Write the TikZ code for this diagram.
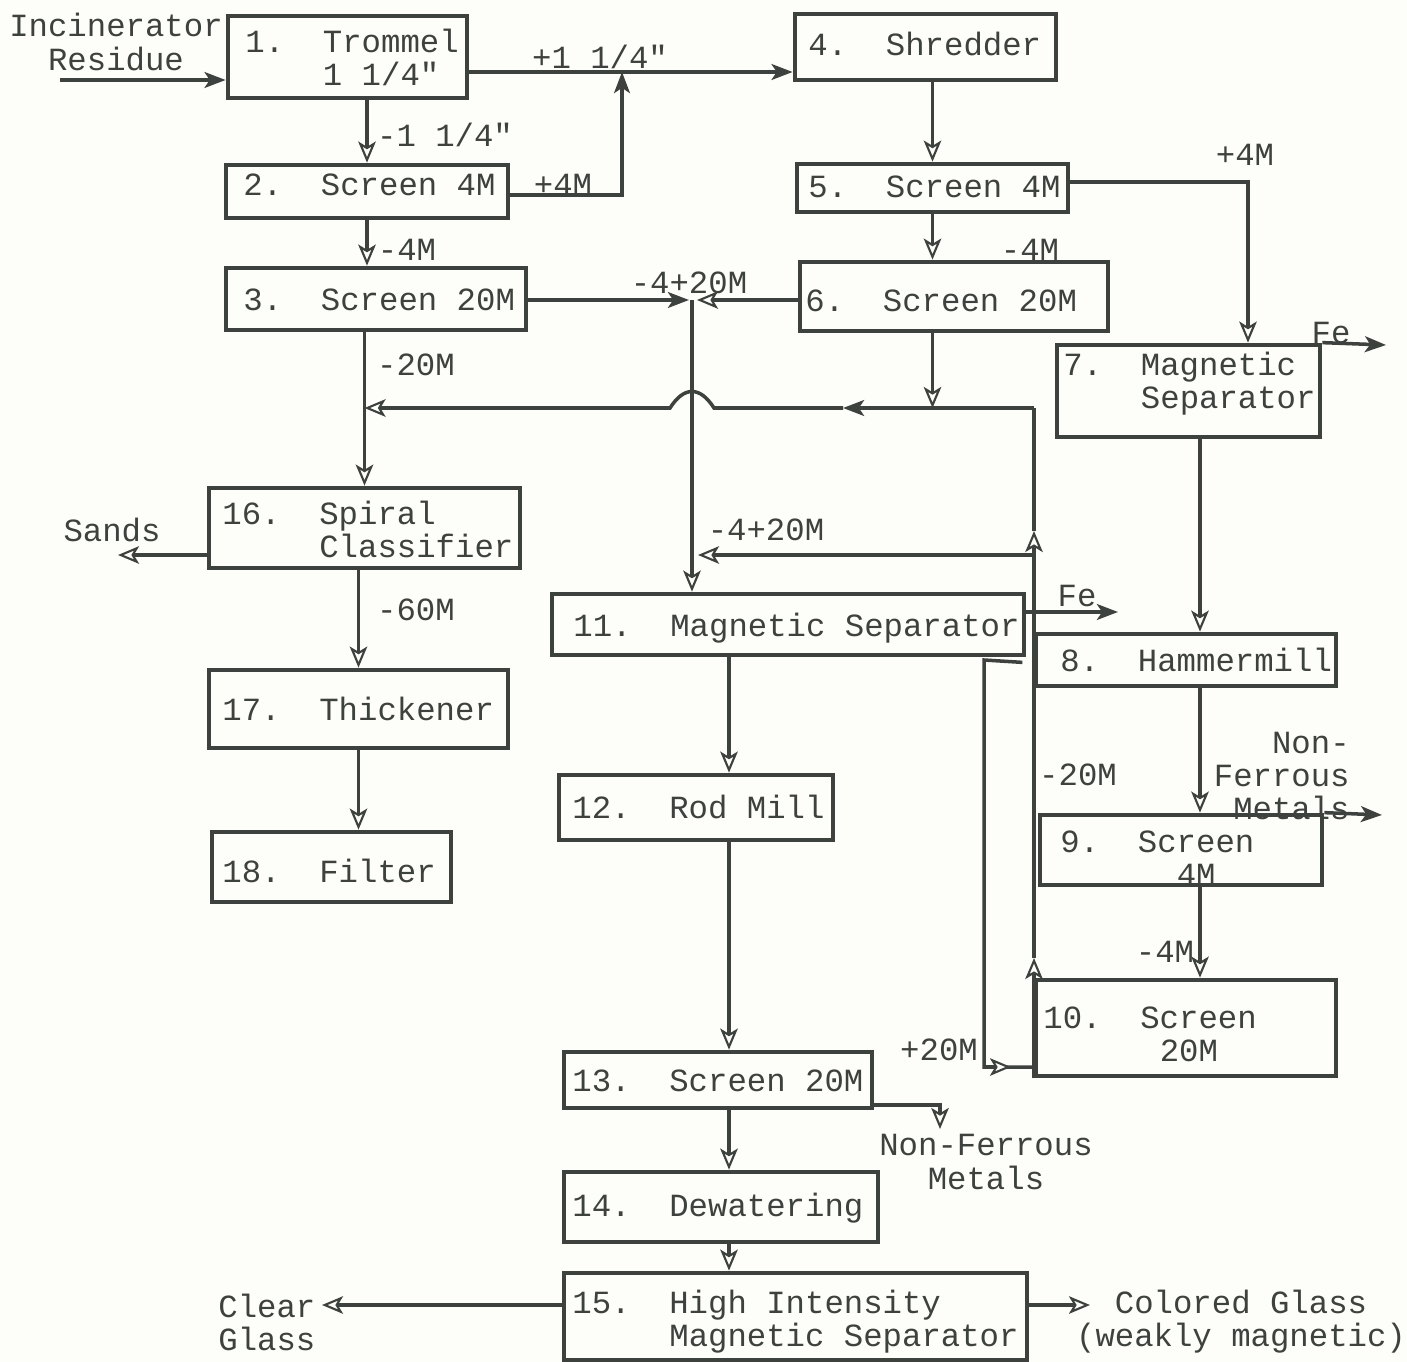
\documentclass[tikz,border=0pt]{standalone}
\usepackage{fontspec}
\setmainfont{Liberation Mono}[Ligatures=TeXOff]
\usetikzlibrary{arrows.meta,calc,fit}
\definecolor{ink}{HTML}{3E423E}
\definecolor{paper}{HTML}{FDFDF9}
\begin{document}
\begin{tikzpicture}[x=0.02cm,y=-0.02cm,
  box/.style={draw=ink, line width=2.7pt, inner sep=0pt},
  txt/.style={text=ink, inner sep=0pt, font=\fontsize{18.4pt}{18.8pt}\selectfont, align=left},
  flow/.style={draw=ink, line width=2pt},
  oarr/.style={-{Stealth[open,fill=paper,line width=1.2pt,length=12pt,width=10pt,inset=3pt]}},
  farr/.style={-{Stealth[length=12pt,width=9pt,inset=3pt]}}]
\fill[paper] (0,0) rectangle (1407,1362);
\useasboundingbox (0,0) rectangle (1407,1362);

% boxes
\node[box, fit={(228,16) (467,98)}] (b1) {};
\node[box, fit={(226,165) (508,218)}] (b2) {};
\node[box, fit={(226,268) (526,330)}] (b3) {};
\node[box, fit={(795,14) (1056,80)}] (b4) {};
\node[box, fit={(797,164) (1068,212)}] (b5) {};
\node[box, fit={(800,262) (1108,331)}] (b6) {};
\node[box, fit={(1057,345) (1320,437)}] (b7) {};
\node[box, fit={(1036,634) (1336,686)}] (b8) {};
\node[box, fit={(1040,815) (1322,885)}] (b9) {};
\node[box, fit={(1036,980) (1336,1076)}] (b10) {};
\node[box, fit={(552,594) (1024,655)}] (b11) {};
\node[box, fit={(559,775) (833,840)}] (b12) {};
\node[box, fit={(564,1052) (872,1108)}] (b13) {};
\node[box, fit={(564,1172) (878,1242)}] (b14) {};
\node[box, fit={(564,1273) (1027,1360)}] (b15) {};
\node[box, fit={(209,488) (520,568)}] (b16) {};
\node[box, fit={(209,670) (508,748)}] (b17) {};
\node[box, fit={(212,832) (451,902)}] (b18) {};

% box texts
\node[txt, anchor=west] (t1) at (245,57) {1.~~Trommel\\~~~~1~1/4"};
\node[txt, anchor=west] (t2) at (243,185) {2.~~Screen~4M};
\node[txt, anchor=west] (t3) at (243,300) {3.~~Screen~20M};
\node[txt, anchor=west] (t4) at (808,44) {4.~~Shredder};
\node[txt, anchor=west] (t5) at (808,187) {5.~~Screen~4M};
\node[txt, anchor=west] (t6) at (805,301) {6.~~Screen~20M};
\node[txt, anchor=west] (t7) at (1063,384) {7.~~Magnetic\\~~~~Separator};
\node[txt, anchor=west] (t8) at (1060,660) {8.~~Hammermill};
\node[txt, anchor=west] (t9) at (1060,858) {9.~~Screen\\~~~~~~4M};
\node[txt, anchor=west] (t10) at (1043,1034) {10.~~Screen\\~~~~~~20M};
\node[txt, anchor=west] (t11) at (573,628) {11.~~Magnetic~Separator};
\node[txt, anchor=west] (t12) at (572,807) {12.~~Rod~Mill};
\node[txt, anchor=west] (t13) at (572,1081) {13.~~Screen~20M};
\node[txt, anchor=west] (t14) at (572,1208) {14.~~Dewatering};
\node[txt, anchor=west] (t15) at (572,1322) {15.~~High~Intensity\\~~~~~Magnetic~Separator};
\node[txt, anchor=west] (t16) at (222,529) {16.~~Spiral\\~~~~~Classifier};
\node[txt, anchor=west] (t17) at (222,709) {17.~~Thickener};
\node[txt, anchor=west] (t18) at (222,871) {18.~~Filter};

% labels
\node[txt, align=center] (linc) at (116,42) {Incinerator\\Residue};
\node[txt] (la) at (600,57) {+1~1/4"};
\node[txt] (lb) at (445,135) {-1~1/4"};
\node[txt] (lc) at (563,185) {+4M};
\node[txt] (ld) at (407,250) {-4M};
\node[txt] (le) at (689,283) {-4+20M};
\node[txt] (lf) at (416,365) {-20M};
\node[txt] (lg) at (1030,250) {-4M};
\node[txt] (lh) at (1245,155) {+4M};
\node[txt] (li) at (1331,333) {Fe};
\node[txt] (lj) at (766,530) {-4+20M};
\node[txt] (lk) at (1077,596) {Fe};
\node[txt] (ll) at (112,530) {Sands};
\node[txt] (lm) at (416,610) {-60M};
\node[txt] (ln) at (1078,775) {-20M};
\node[txt, align=right, anchor=east] (lo) at (1350,776) {Non-\\Ferrous\\Metals};
\node[txt] (lp) at (1165,952) {-4M};
\node[txt] (lq) at (939,1050) {+20M};
\node[txt, align=center] (lr) at (986,1162) {Non-Ferrous\\Metals};
\node[txt, anchor=west] (ls) at (218,1322) {Clear\\Glass};
\node[txt, align=center] (lt) at (1241,1322) {Colored Glass\\(weakly magnetic)};

% connectors
\coordinate (inc) at (60,80);
\draw[flow,farr] (inc) -- (b1.west |- inc);
\coordinate (j1) at (622,72);
\draw[flow,farr] (b1.east |- j1) -- (b4.west |- j1);
\coordinate (c2) at (622,195);
\draw[flow,farr] (b2.east |- c2) -- (c2) -- (j1);
\draw[flow,oarr] (b2.north |- b1.south) -- (b2.north);
\draw[flow,oarr] (b2.south) -- (b2.south |- b3.north);

\coordinate (j2) at (692,300);
\draw[flow,farr] (b3.east |- j2) -- ($(j2)+(-3,0)$);
\draw[flow,oarr] (b6.west |- j2) -- ($(j2)+(5,0)$);
\draw[flow,oarr] (j2) -- (j2 |- b11.north);
\coordinate (c555) at (1034,555);
\draw[flow,oarr] (c555) -- ($(j2 |- c555)+(6,0)$);

\draw[flow,oarr] (b5.north |- b4.south) -- (b5.north);
\draw[flow,oarr] (b5.south) -- (b5.south |- b6.north);
\coordinate (c57) at (1248,182);
\draw[flow,oarr] (b5.east |- c57) -- (c57) -- (c57 |- b7.north);
\coordinate (fe7) at (1386,345);
\draw[flow,farr] (b7.north east) -- (fe7);

\coordinate (r3) at (1034,408);
\coordinate (r1) at (1034,958);
\coordinate (r2) at (1034,531);
\coordinate (r4) at (843,408);
\draw[flow,oarr] (b5.south |- b6.south) -- (b5.south |- r3);
\draw[flow,oarr] (r3 |- b10.south) -- (r1);
\draw[flow,oarr] (r1) -- (r2);
\draw[flow] (r2) -- (r3);
\draw[flow,farr] (r3) -- (r4);
\draw[flow,oarr] (r4) -- (714,408) .. controls (700,386) and (684,386) .. (670,408) -- (b16.north |- r3);

\draw[flow,oarr] (b16.north |- b3.south) -- (b16.north);
\coordinate (sd) at (118,555);
\draw[flow,oarr] (b16.west |- sd) -- (sd);
\draw[flow,oarr] (b17.north |- b16.south) -- (b17.north);
\draw[flow,oarr] (b17.south) -- (b17.south |- b18.north);

\coordinate (fe11) at (1118,612);
\draw[flow,farr] (b11.east |- fe11) -- (fe11);

\coordinate (p1) at (984,660);
\coordinate (p2) at (984,1067);
\coordinate (p3) at (1011,1067);
\draw[flow] ($(b11.south east)+(-4,5)$) -- (p1) -- (p2) -- (b10.west |- p2);
\draw[flow,oarr] (p2) -- (p3);

\coordinate (x78) at (1200,0);
\draw[flow,oarr] (x78 |- b7.south) -- (x78 |- b8.north);
\draw[flow,oarr] (x78 |- b8.south) -- (x78 |- b9.north);
\draw[flow,oarr] (x78 |- b9.south) -- (x78 |- b10.north);
\coordinate (nf9) at (1382,815);
\draw[flow,farr] (b9.north east) -- (nf9);

\coordinate (xc) at (729,0);
\draw[flow,oarr] (xc |- b11.south) -- (xc |- b12.north);
\draw[flow,oarr] (xc |- b12.south) -- (xc |- b13.north);
\draw[flow,oarr] (xc |- b13.south) -- (xc |- b14.north);
\draw[flow,oarr] (xc |- b14.south) -- (xc |- b15.north);
\coordinate (c13) at (940,1105);
\draw[flow,oarr] (b13.east |- c13) -- (c13) -- ++(0,24);
\coordinate (cl) at (322,1305);
\draw[flow,oarr] (b15.west |- cl) -- (cl);
\coordinate (co) at (1090,1305);
\draw[flow,oarr] (b15.east |- co) -- (co);
\end{tikzpicture}
\end{document}
